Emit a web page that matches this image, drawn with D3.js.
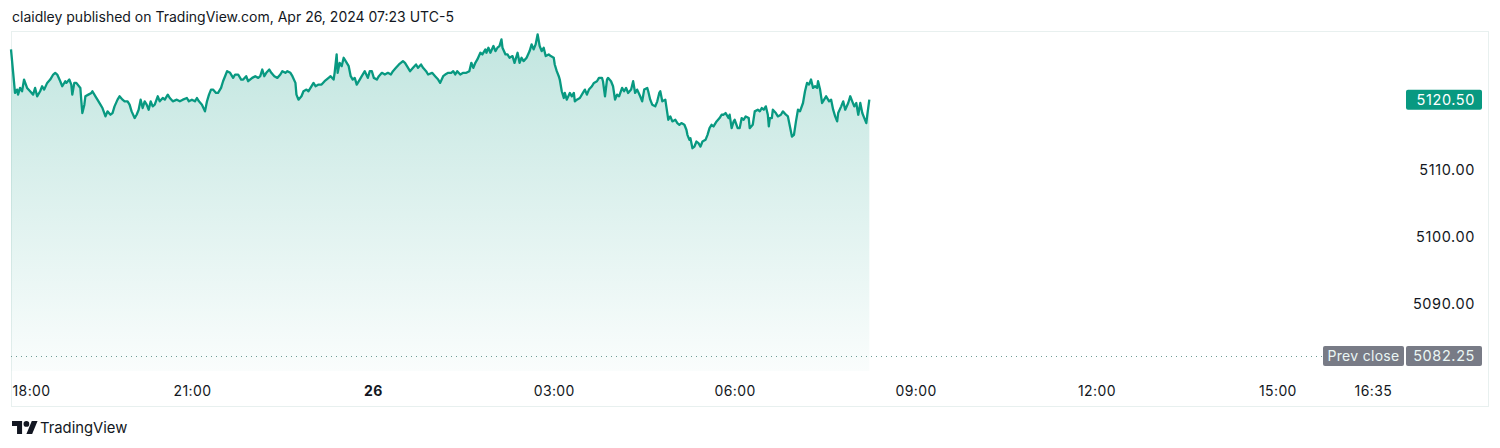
<!DOCTYPE html>
<html><head><meta charset="utf-8">
<script src="https://cdn.jsdelivr.net/npm/d3@7"></script>
<style>
html,body{margin:0;padding:0;background:#fff;}
svg{display:block;font-family:Inter,"Noto Sans",sans-serif;}
</style></head>
<body><svg id="c" width="1500" height="448"></svg>
<script>
// minutes since 18:00 (Apr 25) and ES price
const minutes = [0,2,4,6,7,9,11,13,16,19,22,24,26,29,31,33,36,39,42,44,46,49,51,54,55,58,60,61,63,65,69,70,71,73,74,77,80,81,84,86,89,91,94,96,99,101,103,106,108,111,113,116,118,120,123,125,127,129,131,133,135,137,139,141,143,146,148,151,153,156,158,161,165,168,171,175,177,180,183,185,187,190,193,195,197,199,201,204,206,209,211,
213,215,218,221,223,226,229,231,234,236,240,243,246,248,250,252,254,257,259,262,265,268,270,273,275,278,280,283,284,286,289,291,294,296,298,301,303,306,309,312,316,318,321,322,324,325,327,329,331,333,336,338,340,342,344,347,349,352,355,357,359,361,364,366,369,372,375,378,380,383,386,390,392,394,397,400,403,405,408,410,413,415,419,422,425,
427,430,432,435,438,440,442,444,447,450,453,456,458,460,462,464,467,469,472,473,475,477,480,482,484,486,488,489,492,494,496,499,501,504,506,508,510,513,516,518,520,522,524,526,528,530,532,535,537,540,541,543,545,546,548,550,551,553,556,558,560,561,563,566,569,571,573,575,578,580,583,585,588,589,591,593,594,597,599,601,603,605,608,610,612,614,617,619,621,623,626,628,630,633,634,636,638,641,643,645,
646,648,651,652,654,656,658,661,663,665,667,670,672,673,675,676,678,680,682,684,686,688,691,693,695,697,699,702,705,707,709,711,714,715,717,719,720,723,725,727,729,731,734,735,738,740,743,745,747,749,751,753,754,755,757,758,761,763,766,768,771,773,775,777,779,781,783,785,788,790,792,794,796,798,800,802,803,805,807,809,811,814,816,818,820,822,823,826,828,830,833,835,837,839,841,843,845,847,849,851,852,854];
const prices = [5128.00,5124.75,5121.50,5122.00,5121.25,5122.25,5121.75,5123.50,5122.25,5121.75,5121.25,5122.25,5121.00,5121.75,5122.50,5122.00,5123.00,5123.50,5124.25,5124.50,5124.25,5123.25,5122.50,5123.25,5123.00,5123.50,5122.75,5121.25,5123.00,5123.00,5122.25,5120.25,5118.50,5119.75,5121.00,5121.25,5121.50,5121.75,5121.00,5120.50,5119.75,5119.25,5118.00,5118.75,5118.25,5118.50,5119.50,5120.50,5121.00,5120.50,5120.25,5120.25,5119.75,5118.75,5117.75,5118.25,5119.00,5120.50,5119.25,5120.25,5119.75,5119.00,5120.25,5119.50,5119.75,5121.00,5120.25,5120.75,5120.50,5121.25,5120.75,5120.25,5120.50,5120.25,5120.50,5120.75,5120.25,5120.50,5120.25,5120.75,5120.25,5119.75,5118.75,5120.25,5121.25,5122.00,5122.00,5121.50,5121.50,5122.25,5123.25,
5124.00,5124.75,5124.50,5123.75,5124.25,5124.25,5123.50,5123.50,5124.00,5123.25,5123.75,5124.00,5123.75,5124.00,5125.00,5124.00,5124.50,5125.00,5124.50,5124.00,5123.75,5124.25,5124.75,5124.50,5124.75,5124.50,5124.00,5123.00,5121.25,5120.50,5121.00,5121.75,5122.00,5121.75,5122.25,5123.00,5122.50,5122.75,5122.75,5123.25,5123.75,5124.00,5123.50,5124.50,5127.25,5124.50,5126.00,5125.50,5126.75,5126.25,5125.50,5124.00,5123.50,5123.75,5122.75,5123.50,5124.00,5124.75,5123.75,5124.75,5124.75,5123.75,5123.50,5124.00,5124.50,5124.25,5124.50,5124.25,5124.75,5125.25,5125.75,5126.25,5126.00,5125.50,5124.75,5125.25,5125.75,5125.25,5125.75,5125.25,5124.75,5124.25,5124.50,5124.00,5123.50,
5123.00,5124.00,5124.25,5124.50,5124.50,5124.75,5124.25,5124.75,5124.25,5124.50,5124.50,5124.75,5126.00,5125.25,5126.00,5126.50,5127.50,5127.25,5128.00,5127.50,5128.25,5127.50,5128.50,5127.75,5128.25,5128.50,5129.50,5128.25,5127.25,5127.25,5126.75,5127.00,5126.00,5127.50,5126.00,5126.75,5126.25,5126.75,5127.75,5128.75,5128.00,5128.75,5130.25,5128.50,5127.75,5128.25,5127.00,5127.25,5127.00,5126.75,5125.75,5124.75,5124.00,5123.50,5121.75,5120.75,5121.50,5120.50,5121.50,5121.00,5121.50,5120.25,5120.50,5120.75,5121.50,5122.00,5121.25,5122.00,5122.50,5123.00,5123.25,5123.75,5123.75,5123.25,5121.00,5123.50,5123.75,5123.25,5122.50,5120.50,5121.25,5121.00,5122.25,5121.75,5122.25,5121.50,5122.00,5123.25,5121.50,5122.00,5121.00,5120.25,5122.00,5122.25,5121.75,5120.50,5119.75,5119.50,5120.25,5121.50,
5121.75,5120.25,5120.50,5119.50,5117.50,5118.00,5117.25,5117.50,5117.00,5116.75,5117.00,5116.75,5116.00,5115.25,5114.50,5114.75,5113.25,5113.50,5114.25,5114.00,5113.50,5114.25,5114.50,5115.25,5116.25,5116.75,5116.50,5117.25,5117.75,5118.25,5118.25,5118.50,5117.75,5118.25,5116.25,5117.25,5117.50,5116.25,5116.25,5117.75,5117.50,5118.00,5117.75,5116.25,5116.75,5118.75,5119.00,5118.75,5119.25,5119.00,5119.50,5118.25,5116.50,5117.75,5117.75,5119.00,5118.50,5118.00,5118.25,5118.75,5118.25,5118.00,5116.50,5115.00,5115.25,5117.25,5119.00,5118.75,5120.00,5121.75,5123.00,5122.75,5123.50,5122.25,5122.50,5122.25,5123.25,5122.00,5120.00,5120.50,5121.00,5120.25,5120.50,5119.00,5118.00,5117.25,5118.50,5119.50,5120.25,5119.00,5120.00,5121.00,5120.25,5119.50,5120.00,5118.25,5120.00,5118.50,5117.75,5117.00,5118.25,5120.50];
const priceTicks = [5090, 5100, 5110];
const timeTicks = [0, 180, 360, 540, 720, 900, 1080, 1260, 1355];
const timeTickLabels = ["18:00", "21:00", "26", "03:00", "06:00", "09:00", "12:00", "15:00", "16:35"];
const lastPrice = 5120.50;
const prevClose = 5082.25;
const sessionMinutes = 1380;

const data = minutes.map((m, i) => ({t: m, p: prices[i]}));
const svg = d3.select("#c");
const green = "#089981";

const x = d3.scaleLinear().domain([0, sessionMinutes]).range([11, 1398]);
const y = d3.scaleLinear().domain([5080, 5130]).range([371, 36]);

// header
svg.append("text").attr("x", 12).attr("y", 22).attr("font-size", 14).attr("fill", "#131722")
  .text("claidley published on TradingView.com, Apr 26, 2024 07:23 UTC-5");

// frame
svg.append("rect").attr("x", 11.5).attr("y", 31.5).attr("width", 1477).attr("height", 375)
  .attr("fill", "none").attr("stroke", "#e8f0ef").attr("stroke-width", 1);

// gradient
const defs = svg.append("defs");
const grad = defs.append("linearGradient").attr("id", "g").attr("gradientUnits", "userSpaceOnUse")
  .attr("x1", 0).attr("x2", 0).attr("y1", y(d3.max(prices))).attr("y2", y(5080));
grad.append("stop").attr("offset", 0).attr("stop-color", green).attr("stop-opacity", 0.25);
grad.append("stop").attr("offset", 1).attr("stop-color", green).attr("stop-opacity", 0.02);

const area = d3.area().x(d => x(d.t)).y0(y(5080)).y1(d => y(d.p));
svg.append("path").datum(data).attr("d", area).attr("fill", "url(#g)");

// prev close dotted line
svg.append("line").attr("x1", 11).attr("x2", 1323).attr("y1", Math.round(y(prevClose)) + 0.5).attr("y2", Math.round(y(prevClose)) + 0.5)
  .attr("stroke", "#6f9c96").attr("stroke-width", 1).attr("stroke-dasharray", "1,4");

const line = d3.line().x(d => x(d.t)).y(d => y(d.p));
svg.append("path").datum(data).attr("d", line).attr("fill", "none")
  .attr("stroke", green).attr("stroke-width", 2.3).attr("stroke-linejoin", "round");

const labelFont = {size: 14.5, ls: 0.6};

// price axis
const yAxis = svg.append("g").attr("transform", "translate(1475,0)")
  .call(d3.axisLeft(y).tickValues(priceTicks).tickSize(0).tickPadding(0).tickFormat(d3.format(".2f")));
yAxis.select(".domain").remove();
yAxis.selectAll("text").attr("font-size", labelFont.size).attr("letter-spacing", labelFont.ls)
  .attr("fill", "#131722").attr("font-family", "Inter,sans-serif");

// last price badge
const ly = y(lastPrice);
svg.append("rect").attr("x", 1406).attr("y", ly - 10).attr("width", 76).attr("height", 20).attr("rx", 2).attr("fill", green);
svg.append("text").attr("x", 1475).attr("y", ly).attr("dy", "0.35em").attr("text-anchor", "end")
  .attr("font-size", labelFont.size).attr("letter-spacing", labelFont.ls).attr("fill", "#fff").text(d3.format(".2f")(lastPrice));

// prev close badge
const py = y(prevClose);
svg.append("rect").attr("x", 1323).attr("y", py - 10).attr("width", 81).attr("height", 20).attr("rx", 2).attr("fill", "#787b86");
svg.append("text").attr("x", 1363.5).attr("y", py).attr("dy", "0.35em").attr("text-anchor", "middle")
  .attr("font-size", 14).attr("letter-spacing", 0.3).attr("fill", "#eaf6f4").text("Prev close");
svg.append("rect").attr("x", 1406).attr("y", py - 10).attr("width", 76).attr("height", 20).attr("rx", 2).attr("fill", "#787b86");
svg.append("text").attr("x", 1475).attr("y", py).attr("dy", "0.35em").attr("text-anchor", "end")
  .attr("font-size", labelFont.size).attr("letter-spacing", labelFont.ls).attr("fill", "#eaf6f4").text(d3.format(".2f")(prevClose));

// time axis
const xAxis = svg.append("g").attr("transform", "translate(0,386)")
  .call(d3.axisBottom(x).tickValues(timeTicks).tickSize(0).tickPadding(0)
    .tickFormat((d, i) => timeTickLabels[i]));
xAxis.select(".domain").remove();
xAxis.selectAll("text").attr("font-size", 14).attr("letter-spacing", 0.4).attr("fill", "#131722").attr("font-family", "Inter,sans-serif")
  .attr("font-weight", (d, i) => timeTickLabels[i] === "26" ? 700 : 400);
xAxis.selectAll("text").filter((d, i) => i === 0).attr("text-anchor", "start").attr("x", 1);

// footer logo + text
const logo = svg.append("g").attr("transform", "translate(12,421) scale(0.72)");
logo.append("path").attr("d", "M14 18H7V7H0V0h14v18zM28 18h-8L27.5 0h8L28 18z").attr("fill", "#131722");
logo.append("circle").attr("cx", 20).attr("cy", 4).attr("r", 4).attr("fill", "#131722");
svg.append("text").attr("x", 40).attr("y", 433).attr("font-size", 14.8).attr("fill", "#131722").text("TradingView");
</script></body></html>
